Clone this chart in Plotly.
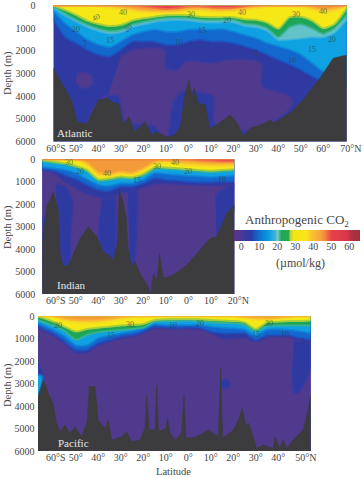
import plotly.graph_objects as go

W, H = 364, 478
COL = {"50": "#e8404c", "40": "#f49a38", "35": "#f9c92a", "30": "#f6e816", "20": "#1da655",
       "17": "#62c4c8", "15": "#0ea2e2", "10": "#1268cc", "5": "#2e3aa2", "0": "#503a8e"}
EDGE = {"50": "rgba(240,110,70,.8)", "40": "rgba(248,180,50,.8)", "35": "rgba(248,215,40,.8)",
        "30": "rgba(165,205,60,.95)", "20": "rgba(60,180,150,.8)", "17": "rgba(70,180,215,.7)",
        "15": "rgba(15,130,215,.8)", "10": "rgba(30,80,190,.8)", "5": "rgba(60,58,160,.7)"}
POLY_EDGE = {"0": "rgba(70,58,150,.6)", "5": "rgba(60,58,160,.6)", "15": "rgba(20,110,200,.7)"}
LAND = "#3c3c3e"
TXT = "#454545"
SERIF = "Liberation Serif"

# ---------- Atlantic ----------
atl_lat = [-60,-55,-50,-45,-40,-35,-30,-25,-20,-15,-10,-5,0,5,10,15,20,25,30,35,40,45,50,55,60,65,70.4]
atl_50 = [0,0,0,0,0,0,0,0,40,100,150,120,40,40,80,100,100,40,0,0,0,0,0,0,0,0,0]
atl_40 = [0,0,0,0,0,0,60,130,200,230,240,220,150,130,170,190,170,100,30,0,0,0,0,60,180,120,0]
atl_35 = [0,0,0,0,40,90,170,230,290,320,320,300,240,220,260,280,260,200,130,50,30,60,70,180,320,240,20]
atl_30 = [0,190,410,660,810,900,850,660,560,490,430,410,430,490,510,510,510,600,630,750,1020,510,490,660,1000,810,120]
atl_20 = [60,350,620,850,1020,1130,1080,850,720,620,560,540,560,620,650,640,640,800,850,1000,1400,950,820,1000,1250,1000,420]
atl_17 = [110,430,700,950,1120,1240,1180,950,830,720,660,640,660,720,750,740,740,900,960,1120,1520,1500,1450,1400,1400,1200,620]
atl_15 = [260,780,1150,1500,1730,1840,1590,1300,1150,1070,1150,1150,1070,1040,1070,1040,1150,1300,1440,1660,1800,1950,2170,2540,2900,2900,2900]
atl_10 = [630,1370,1660,1950,2170,2250,1950,1590,1590,1590,1730,1730,1590,1510,1590,1590,1660,1800,1950,2170,2400,2600,2840,3130,3350,3500,3500]
atl_purple_lat = [-30,-24,-11,-10,-5,-1,11,18,32,33,45,46,38,25,12,11,5,-3,-7,-10,-15,-28,-31,-37,-42,-45,-41]
atl_purple_dep = [2250,1950,1950,2760,2870,2470,2540,2400,2540,3570,4000,4400,5100,5500,5200,4000,3800,3800,4300,5900,5300,5100,4000,4000,4500,5400,5500]
atl_patch_lat = [-49.5,-46,-43,-43,-47,-50]
atl_patch_dep = [3000,2950,3150,3500,3650,3400]
atl_land_lat = [-60,-55.5,-52,-49.5,-45,-43,-40,-36,-33,-31,-29,-26.5,-23.7,-19.3,-16.3,-14,-9.6,-6,-3.7,-1.5,0.3,1.5,2.7,4.4,7.4,9.6,12.6,18.5,21.8,24.4,27.4,34,36.6,37.8,45,51,59,64.4,70.4]
atl_land_dep = [2760,3570,4160,5120,5220,4750,4160,4090,4310,4310,5260,4900,5560,5120,5700,5560,5800,5700,5340,3870,3280,4010,3650,4310,4380,5410,5260,4820,5190,5750,5410,5190,5040,5190,4750,4160,3130,2320,2180]

# ---------- Indian ----------
ind_lat = [-64.9,-60,-55,-50,-45,-40,-35,-30,-25,-20,-15,-10,-5,0,5,10,15,20.4]
ind_50 = [0,0,0,0,0,0,0,0,0,0,0,0,0,0,40,70,100,100]
ind_40 = [0,0,0,0,150,580,640,560,600,400,120,60,120,130,180,200,200,200]
ind_35 = [0,0,0,40,280,720,740,660,690,500,190,140,220,260,290,320,320,300]
ind_30 = [30,100,180,300,475,890,850,770,800,650,360,360,400,445,475,505,475,445]
ind_20 = [100,170,230,360,540,960,920,840,870,730,430,430,470,515,545,575,545,510]
ind_15 = [330,400,475,620,890,1140,1190,1070,1070,920,620,650,700,740,770,800,770,740]
ind_10 = [450,500,700,890,1140,1370,1400,1220,1220,1070,850,920,950,1000,1030,1030,1000,1000]
ind_5 = [520,600,1000,1300,1550,1700,1750,1500,1400,1250,1100,1080,1120,1150,1170,1180,1180,1150]
ind_blue_a_lat = [-59,-55,-51.5,-52,-53,-55,-57.5]
ind_blue_a_dep = [1100,1200,1800,3000,4700,4900,3800]
ind_blue_b_lat = [-38,-33.5,-32,-33,-35,-38.5,-40]
ind_blue_b_dep = [1500,1500,2600,4400,4400,4200,3000]
ind_blue_c_lat = [-27,-23.5,-23,-24.5,-26]
ind_blue_c_dep = [1300,1200,3400,4800,4600]
ind_blue_d_lat = [12,20.4,20.4,15,12.5]
ind_blue_d_dep = [1600,1100,2300,3000,3500]
ind_blue_e_lat = [-64.9,-63.5,-63,-64.9]
ind_blue_e_dep = [2600,2600,3500,3800]
ind_land_lat = [-64.9,-63,-60,-57.8,-57,-55.6,-53.3,-51,-48,-44.4,-40.7,-37.8,-35.5,-33.3,-31.6,-30.7,-29.2,-27.7,-26.7,-25.2,-23.7,-20.7,-17.8,-16.7,-15.6,-14,-12.9,-11,-6.7,-0.7,5.2,9.6,12.6,17,20.4]
ind_land_dep = [3740,2110,1440,2260,4190,4780,4710,4190,3520,3000,3450,4110,4260,4480,3740,1370,1810,2550,4040,4780,4560,5230,5670,6000,5080,5380,4190,5300,5150,4710,4040,3520,3450,2410,2030]

# ---------- Pacific ----------
pac_lat = [-66.8,-65,-60,-55,-50,-45,-40,-35,-30,-25,-20,-15,-10,-5,0,5,10,15,20,25,30,35,40,45,50,54.4]
pac_40 = [0,0,0,100,170,180,170,110,40,0,0,0,0,0,0,0,0,0,0,30,70,90,60,20,0,0]
pac_35 = [0,0,0,200,270,290,280,210,130,60,30,0,0,0,0,0,0,0,20,80,170,150,110,50,0,0]
pac_30 = [0,60,240,460,680,565,505,460,415,385,340,165,130,120,120,130,165,190,210,270,565,270,240,210,210,190]
pac_20 = [165,240,415,650,1050,830,710,650,610,565,505,240,210,210,190,220,270,300,310,385,680,430,415,415,415,415]
pac_15 = [310,385,610,905,1300,1300,980,860,760,680,565,355,385,385,385,385,460,505,535,610,860,610,580,610,680,760]
pac_10 = [415,535,760,1130,1500,1500,1200,1050,905,830,680,460,490,505,490,505,680,760,760,760,1050,860,830,860,980,1050]
pac_5 = [500,620,850,1230,1620,1620,1300,1140,990,900,750,530,560,570,560,580,760,1000,1000,950,1150,950,900,930,1100,1200]
pac_blue_a_lat = [47,51,54.4,54.4,49,47,46]
pac_blue_a_dep = [1100,1100,1000,2300,3400,3400,2600]
pac_blue_b_lat = [14.9,17.5,18.5,17.5,15]
pac_blue_b_dep = [2850,2800,3050,3200,3200]
pac_blue_c_lat = [-66.8,-64.5,-65,-66.8]
pac_blue_c_dep = [2100,2600,3000,3000]
pac_sky_lat = [-66.8,-65,-64.8,-66.8]
pac_sky_dep = [2600,2650,2900,3600]
pac_land_lat = [-66.8,-64.4,-62.2,-60,-58.8,-57,-54.8,-52.6,-50.4,-47.4,-44.9,-44,-41.5,-40,-37,-35.6,-34,-29.6,-27.4,-25.2,-21.5,-19.3,-18.5,-17.3,-14.8,-14,-13.2,-10,-9.2,-8.1,-5.9,-3,-1.9,-1,3.7,8.9,13.3,14.4,15.3,20,22.2,24,25.5,27.1,30.4,33.3,37.8,38.5,40.7,42.2,43.7,47.4,51.1,53.3,54.4]
pac_land_dep = [3580,2840,3430,3880,4690,5140,4840,5210,4920,5360,4690,3130,3130,4620,4990,4620,5510,5360,5140,5580,5510,4990,3500,5060,5060,3060,5140,4990,4540,5210,5510,5210,3500,5430,5360,5060,5360,2320,5430,5060,4620,4100,4840,4770,5880,5730,5880,5360,5880,5510,5880,5430,5060,4100,3500]

# ---------- Colour strip ----------
cb_values = [-4,0,5,10,15,19,20,22,26,27,29,36,38,43,46,50,58,62,66]
cb_colors = ["#5a3285","#4a3a96","#2c3aa6","#0f70cf","#0a9de0","#40b4dc","#80c8c0","#1ca858","#30a84c","#b4d03c","#f5e414","#f8e41c","#fac82a","#f6a93a","#f38a3c","#e8404c","#d83848","#a83040","#9e3040"]
cb_ticks = [0,10,20,30,40,50,60]

# ---------- Labels: text, latitude, depth ----------
atl_labels = [("40",-41,520,-30),("40",-29,310,0),("30",1,410,0),("20",-27,1000,-40),("20",-50,1040,0),("15",-35,1540,0),("5",-46,1690,0),("10",-4,1630,0),("15",6,1100,0),("20",17,660,0),("40",24,290,0),("30",48,410,0),("40",60,265,0),("20",64,1480,0),("15",55,1925,0),("10",46,2440,0),("5",30,2100,0)]
ind_labels = [("30",-53,150,0),("20",-48,550,0),("40",-36,650,0),("15",-23,950,0),("30",-14,330,0),("40",-6,150,0),("20",0,550,0),("10",15,890,0)]
pac_labels = [("20",-58,430,0),("30",-26,385,0),("15",-34.5,860,0),("10",-7,430,0),("20",5,340,0),("30",36,340,0),("15",30,790,0),("10",43,790,0),("5",51,1100,0)]

lat_ticks = [-60,-50,-40,-30,-20,-10,0,10,20,30,40,50,60,70]
lat_text = ["60°S","50°","40°","30°","20°","10°","0°","10°","20°","30°","40°","50°","60°","70°N"]
depth_ticks = [0,1000,2000,3000,4000,5000,6000]

fig = go.Figure()

def poly(xa, ya, lat, dep, key):
    fig.add_trace(go.Scatter(x=lat, y=dep, xaxis=xa, yaxis=ya, mode="lines", fill="toself",
                             fillcolor=COL[key], line=dict(color=POLY_EDGE[key], width=2.5, shape="spline", smoothing=0.8),
                             hoverinfo="skip", showlegend=False))

def iso(xa, ya, lat, dep, key):
    fig.add_trace(go.Scatter(x=lat, y=dep, xaxis=xa, yaxis=ya, mode="lines", fill="tozeroy",
                             fillcolor=COL[key], line=dict(color=EDGE[key], width=2, shape="spline", smoothing=0.6),
                             hoverinfo="skip", showlegend=False))

def land(xa, ya, lat, dep):
    xs = [lat[0]] + lat + [lat[-1]]
    ys = [6000] + dep + [6000]
    fig.add_trace(go.Scatter(x=xs, y=ys, xaxis=xa, yaxis=ya, mode="lines", fill="toself",
                             fillcolor=LAND, line=dict(color=LAND, width=0.5), hoverinfo="skip", showlegend=False))

# Atlantic (base: dark blue)
poly("x", "y", atl_purple_lat, atl_purple_dep, "0")
poly("x", "y", atl_patch_lat, atl_patch_dep, "0")
for d, k in [(atl_10,"10"),(atl_15,"15"),(atl_17,"17"),(atl_20,"20"),(atl_30,"30"),(atl_35,"35"),(atl_40,"40"),(atl_50,"50")]:
    iso("x", "y", atl_lat, d, k)
land("x", "y", atl_land_lat, atl_land_dep)

# Indian (base: purple)
for la, de in [(ind_blue_a_lat,ind_blue_a_dep),(ind_blue_b_lat,ind_blue_b_dep),(ind_blue_c_lat,ind_blue_c_dep),(ind_blue_d_lat,ind_blue_d_dep),(ind_blue_e_lat,ind_blue_e_dep)]:
    poly("x2", "y2", la, de, "5")
for d, k in [(ind_5,"5"),(ind_10,"10"),(ind_15,"15"),(ind_20,"20"),(ind_30,"30"),(ind_35,"35"),(ind_40,"40"),(ind_50,"50")]:
    iso("x2", "y2", ind_lat, d, k)
land("x2", "y2", ind_land_lat, ind_land_dep)

# Pacific (base: purple)
for la, de in [(pac_blue_a_lat,pac_blue_a_dep),(pac_blue_b_lat,pac_blue_b_dep),(pac_blue_c_lat,pac_blue_c_dep)]:
    poly("x3", "y3", la, de, "5")
poly("x3", "y3", pac_sky_lat, pac_sky_dep, "15")
for d, k in [(pac_5,"5"),(pac_10,"10"),(pac_15,"15"),(pac_20,"20"),(pac_30,"30"),(pac_35,"35"),(pac_40,"40")]:
    iso("x3", "y3", pac_lat, d, k)
land("x3", "y3", pac_land_lat, pac_land_dep)

# Colour strip
zmin, zmax = cb_values[0], cb_values[-1]
scale = [[(v - zmin) / (zmax - zmin), c] for v, c in zip(cb_values, cb_colors)]
fig.add_trace(go.Heatmap(x=cb_values, y=[0, 1], z=[cb_values, cb_values], xaxis="x4", yaxis="y4",
                         zmin=zmin, zmax=zmax, colorscale=scale, showscale=False, zsmooth="best", hoverinfo="skip"))

def dx(a, b): return [a / W, b / W]
def dy(t, b): return [1 - b / H, 1 - t / H]

def xax(rng, x0, x1, anchor, vals, text):
    return dict(domain=dx(x0, x1), range=rng, anchor=anchor, tickvals=vals, ticktext=text, showgrid=False, zeroline=False,
             showline=False, ticks="", ticklabelstandoff=-1, tickangle=0, automargin=False,
             tickfont=dict(family=SERIF, size=10, color=TXT))

def yax(t, b, anchor, tl):
    return dict(domain=dy(t, b), range=[6000, 0], anchor=anchor, tickvals=depth_ticks, showgrid=False, zeroline=False,
                showline=False, ticks="outside", ticklen=tl, tickcolor="rgba(0,0,0,0)", tickformat="d", automargin=False,
                tickfont=dict(family=SERIF, size=10, color=TXT))

NB = "\u00a0\u00a0"
t_atl = lat_text[:]; t_atl[0] = NB + "60°S"; t_atl[-1] = NB + NB + "70°N"
t_ind = lat_text[:9]; t_ind[0] = NB + "60°S"; t_ind[-1] = NB + NB + "20°N"
t_pac = lat_text[:12]; t_pac[0] = NB + "60°S"; t_pac[-1] = NB + NB + "50°N"

annots = []
def clabels(xr, yr, items):
    for s, la, de, ang in items:
        annots.append(dict(text=s, x=la, y=de, xref=xr, yref=yr, showarrow=False, textangle=ang,
                           xanchor="center", yanchor="middle",
                           font=dict(family=SERIF, size=8, color="rgba(50,60,70,.7)")))
clabels("x", "y", atl_labels); clabels("x2", "y2", ind_labels); clabels("x3", "y3", pac_labels)

def ptext(s, x, y, size, color=TXT, angle=0):
    annots.append(dict(text=s, x=x / W, y=1 - y / H, xref="paper", yref="paper", showarrow=False, textangle=angle,
                       xanchor="center", yanchor="middle",
                       font=dict(family=SERIF, size=size, color=color)))
ptext("Atlantic", 75, 133, 11, "#e6e6e6")
ptext("Indian", 71, 285, 11, "#e6e6e6")
ptext("Pacific", 73, 443, 11, "#e6e6e6")
ptext("Anthropogenic CO<sub>2</sub>", 297, 221, 13)
ptext("(µmol/kg)", 300, 263, 12)
ptext("Depth (m)", 8, 73, 10.5, TXT, -90)
ptext("Depth (m)", 8, 227, 10.5, TXT, -90)
ptext("Depth (m)", 8, 385, 10.5, TXT, -90)
ptext("Latitude", 173, 471, 10.5)

fig.update_layout(
    width=W, height=H, margin=dict(l=0, r=0, t=0, b=0, autoexpand=False), paper_bgcolor="white", plot_bgcolor=COL["5"],
    showlegend=False, annotations=annots,
    xaxis=xax([-60, 70.4], 53.5, 346.7, "y", lat_ticks, t_atl),
    yaxis=yax(5.6, 141.6, "x", 15),
    xaxis2=xax([-64.9, 20.4], 42.3, 234.3, "y2", lat_ticks[:9], t_ind),
    yaxis2=yax(159.3, 294, "x2", 4),
    xaxis3=xax([-66.8, 54.4], 38, 310.7, "y3", lat_ticks[:12], t_pac),
    yaxis3=yax(316.3, 451, "x3", 0.5),
    xaxis4=dict(domain=dx(234, 360), range=[zmin, zmax], anchor="y4", tickvals=cb_ticks, showgrid=False, zeroline=False,
                ticks="", ticklabelstandoff=-2, automargin=False, tickfont=dict(family=SERIF, size=10, color=TXT)),
    yaxis4=dict(domain=dy(230, 241), range=[0, 1], anchor="x4", visible=False, automargin=False),
)
fig.add_shape(type="rect", xref="x2 domain", yref="y2 domain", x0=0, x1=1, y0=0, y1=1, fillcolor=COL["0"], line_width=0, layer="below")
fig.add_shape(type="rect", xref="x3 domain", yref="y3 domain", x0=0, x1=1, y0=0, y1=1, fillcolor=COL["0"], line_width=0, layer="below")
fig.write_html("out.html", config={"displayModeBar": False}, post_script="document.body.style.margin='0';document.body.style.overflow='hidden';")
